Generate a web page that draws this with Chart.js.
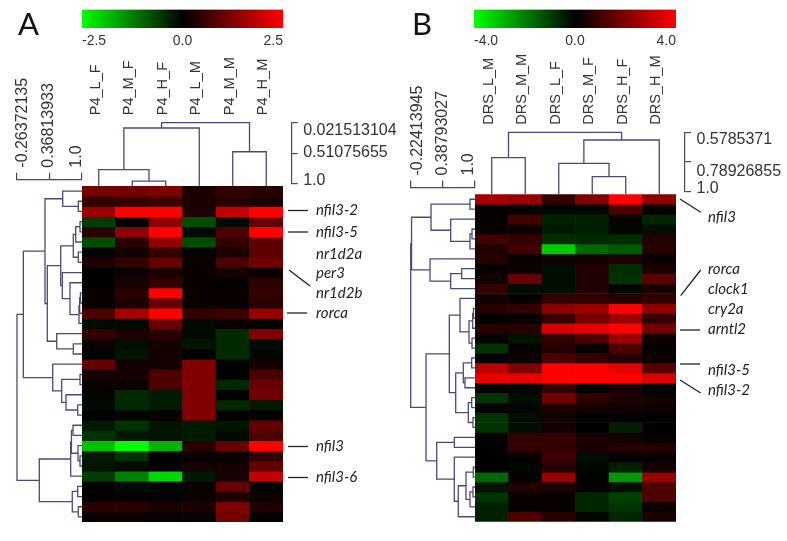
<!DOCTYPE html>
<html>
<head>
<meta charset="utf-8">
<script src="https://cdn.jsdelivr.net/npm/chart.js@4"></script>
<style>
  html, body { margin: 0; padding: 0; background: #fff; }
  #page { position: absolute; left: 0; top: 0; width: 787px; height: 541px; overflow: hidden; filter: blur(0.45px); }
  #page canvas { position: absolute; }
  .letter { position: absolute; font: 31px Lato, sans-serif; color: #111; line-height: 1; }
</style>
</head>
<body>
<div id="page">
  <div class="letter" style="left:18px;top:8px">A</div>
  <div class="letter" style="left:412px;top:8px">B</div>
</div>
<script>
// samples, in heatmap column order
var samplesA = ["P4_L_F", "P4_M_F", "P4_H_F", "P4_L_M", "P4_M_M", "P4_H_M"];
var samplesB = ["DRS_L_M", "DRS_M_M", "DRS_L_F", "DRS_M_F", "DRS_H_F", "DRS_H_M"];

// colour bar ends
var rangeA = [-2.5, 2.5];
var rangeB = [-4, 4];

// dendrogram axis ticks
var colTicksA = [0.021513104, 0.51075655, 1.0];
var rowTicksA = [-0.26372135, 0.36813933, 1.0];
var colTicksB = [0.5785371, 0.78926855, 1.0];
var rowTicksB = [-0.22413945, 0.38793027, 1.0];

// expression per gene row
var heatA = [
  [1.15, 1.15, 1.25, .25, .5, .4],
  [.5, .5, .6, .25, .4, .25],
  [1.5, 2.5, 2.5, .3, 1.9, 2.5],
  [-.6, .05, 1.4, -.75, -.1, 1],
  [.4, 1.4, 2.5, -.1, .75, 2.5],
  [-.75, .4, 1.4, -.75, .5, .9],
  [.05, .2, .5, .05, .25, .9],
  [.3, .5, 1, .1, .75, 1.1],
  [0, .1, .25, .1, .2, .1],
  [0, .25, .5, .1, .05, .45],
  [.1, .4, 2.5, .1, .1, .5],
  [.1, .25, 1, .1, .1, .4],
  [.75, 1.6, 2.5, .5, .6, 1.5],
  [-.1, -.1, 1, -.1, .1, .05],
  [.5, .25, .4, -.1, -.4, 1.25],
  [.1, -.15, .2, -.2, -.4, -.1],
  [0, -.2, .2, 0, -.4, -.05],
  [1, .2, .2, 1.25, 0, .2],
  [.2, .2, .75, 1.25, 0, .75],
  [.1, .1, .75, 1.25, -.4, 1],
  [-.05, -.4, -.25, 1.25, 0, 1.1],
  [-.1, -.4, -.25, 1.25, -.4, -.25],
  [0, -.05, .1, 1.25, 0, .05],
  [-.25, -.5, -.2, -.25, -.2, 1],
  [-.5, -.25, -.2, -.25, -.1, .75],
  [-1.9, -2.5, -1.75, .4, 1, 2.5],
  [-.25, -.5, 0, .1, .1, .5],
  [-.2, -.1, 0, .2, .2, 1],
  [-.6, -1.25, -2.1, -.25, .25, 1.9],
  [0, -.1, -.05, .1, 1, .05],
  [0, 0, 0, .1, .3, .1],
  [.4, .4, .25, .25, 1.25, .3],
  [.1, .1, .1, .1, 1.1, .05]
];
var heatB = [
  [2.6, 2.4, .8, 2, 4, 2.2],
  [.1, .1, -.1, -.1, 1.2, .1],
  [.1, 1, -.5, -.5, .1, -.6],
  [.1, .2, -.4, -.5, -.1, -.2],
  [1, .8, -.7, -.6, -.7, .5],
  [.5, 1, -3.2, -1.6, -1.4, .6],
  [.6, .1, .3, .3, .4, .1],
  [.1, .2, -.2, .5, -.7, .4],
  [.3, 1.6, -.2, .5, -.8, 1.4],
  [.8, -.2, -.2, .5, -.1, .4],
  [.3, .1, .8, .8, .6, .8],
  [.6, .8, 2.2, 2.4, 4, 2.2],
  [0, .1, .8, 1.8, 2.4, .8],
  [.6, .6, 3.4, 3.6, 4, 1.8],
  [.1, -.3, .8, 1.2, 2.4, .2],
  [-.8, .1, .6, .1, 1.2, .1],
  [.1, .2, 1.2, .8, .6, .2],
  [3, 2, 4, 4, 3.6, 1.4],
  [3.6, 3.6, 4, 4, 4, 3.4],
  [0, -.1, .8, 0, .4, -.1],
  [-.8, -.2, 1.8, .8, .4, .3],
  [0, -.1, .4, .3, .3, .2],
  [-.8, -.2, .2, 0, 0, 0],
  [-.8, -.2, .3, 0, -.5, 0],
  [0, .8, .8, .4, .3, .1],
  [0, .8, .8, .4, .6, .6],
  [0, .1, 1, -.2, .1, .1],
  [0, -.1, .6, -.1, -.5, .3],
  [-1.6, .1, 2.4, 0, -2.4, 2.4],
  [-.3, .5, .4, .1, -.2, 1.2],
  [-.8, .1, .1, -.6, -1, 1.2],
  [-.5, .1, .1, -.6, -.8, .1],
  [-.5, 1.2, .6, -.1, -.6, .4]
];

// dendrograms: [merge distance, child, child], a plain number is a leaf index
var colTreeA = [.0215, [.106, [.769, 0, [.953, 1, 2]], 3], [.485, 4, 5]];
var colTreeB = [.5785, [.7586, 0, 1], [.633, [.7984, 2, [.8934, 3, 4]], 5]];

var rowTreeA = [-.2637,
  [-.14,
    [.283,
      [.629, 0, [.934, 1, 2]],
      [.328,
        [.59,
          [.836, [.883, [.967, 3, 4], 5], [.934, 6, 7]],
          [.621, 8, [.771, 9, [.947, [.96, [.975, 10, 11], 12], 13]]]],
        [.512, 14, [.836, 15, 16]]]],
    [.434, 17, [.609, [.967, 18, 19], [.693, 20, [.922, 21, 22]]]]],
  [.172,
    [.785, [.8, [.83, 23, 24], [.928, 25, [.967, 26, 27]]], 28],
    [.816, [.922, 29, 30], [.934, 31, 32]]]
];
var rowTreeB = [-.2241,
  [-.208,
    [.167, [.917, 0, 1], [.546, 2, [.917, [.956, 3, 4], 5]]],
    [.148, 6, [.546, [.758, 7, 8], 9]]],
  [.071,
    [.519,
      [.725, 10, [.898, [.969, [.985, 11, 12], 13], [.956, 14, 15]]],
      [.642,
        [.788, [.95, 16, 17], [.821, 18, 19]],
        [.885, [.95, 20, 21], [.975, 22, 23]]]],
    [.277,
      [.615, 24, 25],
      [.615, 26, [.692, [.84, [.981, 27, 28], [.917, [.975, 29, 30], 31]], 32]]]]
];

// gene names beside the heatmaps
var genesA = ["nfil3-2", "nfil3-5", "nr1d2a", "per3", "nr1d2b", "rorca", "nfil3", "nfil3-6"];
var genesB = ["nfil3", "rorca", "clock1", "cry2a", "arntl2", "nfil3-5", "nfil3-2"];

// ---- layout, in page pixels ----
var nRows = 33;
var panelA = {
  samples: samplesA, range: rangeA, heat: heatA, colTree: colTreeA, rowTree: rowTreeA,
  colTicks: colTicksA, rowTicks: rowTicksA, genes: genesA,
  barL: 82, barR: 283, heatL: 82, heatR: 283, heatT: 186, heatB: 522,
  colAxisX: 291.7, colAxisT: 122.7, colAxisB: 184,
  rowAxisY: 179.7, rowAxisL: 17, rowAxisR: 81.7,
  colLabelShift: [8, -.7, -3], rowLabelShift: [6, -1, -4.7],
  pageLeft: 0, pageRight: 400, labelX: 316,
  labelY: [210.5, 232, 254, 273, 293, 313, 446.5, 477.5],
  rules: [[288, 210.5, 308, 210.5], [288, 232, 308, 232], [289, 270, 310, 286], [287, 313, 307, 313], [288, 446.5, 308, 446.5], [288, 477.5, 308, 477.5]]
};
var panelB = {
  samples: samplesB, range: rangeB, heat: heatB, colTree: colTreeB, rowTree: rowTreeB,
  colTicks: colTicksB, rowTicks: rowTicksB, genes: genesB,
  barL: 474, barR: 676.5, heatL: 475, heatR: 676, heatT: 194.3, heatB: 521.7,
  colAxisX: 685, colAxisT: 132.3, colAxisB: 191.7,
  rowAxisY: 187.5, rowAxisL: 410.7, rowAxisR: 474.3,
  colLabelShift: [7, 10, -3], rowLabelShift: [7, 0, -6],
  pageLeft: 400, pageRight: 787, labelX: 708,
  labelY: [217, 269, 289, 309, 329, 370, 390],
  rules: [[680, 199, 700.7, 212.3], [680.7, 295.7, 700.7, 270], [680, 330, 700, 330], [680, 364, 700, 364], [680, 380, 700.7, 393]]
};

var LINE = "#4a4a78";
var AXIS = "#4a4a4a";
var TEXT = "#333";
var FONT = "'Liberation Sans', Arial, sans-serif";

// create a canvas at a page box and return it with the padding that puts the plot area on `area`.
// sides taken by an axis get no padding, the axis afterFit fills them instead
function mount(box, area, axisSides) {
  var c = document.createElement("canvas");
  c.width = box.r - box.l;
  c.height = box.b - box.t;
  c.style.left = box.l + "px";
  c.style.top = box.t + "px";
  document.getElementById("page").appendChild(c);
  var padding = {
    left: area.l - box.l, right: box.r - area.r, top: area.t - box.t, bottom: box.b - area.b
  };
  (axisSides || []).forEach(function(s) { padding[s] = 0; });
  return { ctx: c, padding: padding };
}

// no extra room for the first and last tick label, the plot area stays where it was put
function noLabelMargin(s) {
  s.paddingLeft = s.paddingRight = s.paddingTop = s.paddingBottom = 0;
}

function baseOptions(padding) {
  return {
    responsive: false,
    animation: false,
    events: [],
    layout: { padding: padding },
    plugins: { legend: { display: false }, tooltip: { enabled: false } }
  };
}

function setTicks(values) {
  return function(s) {
    s.ticks = values.map(function(v) { return { value: v }; });
  };
}

// label spots on a second axis: the source prints these labels a bit off their ticks
function shifted(ticks, shift, pxPerDist) {
  return ticks.map(function(v, i) { return v + shift[i] / pxPerDist; });
}

function heatColor(v, max) {
  var f = Math.min(1, Math.abs(v) / max);
  var c = Math.round(255 * f);
  return v >= 0 ? "rgb(" + c + ",0,0)" : "rgb(0," + c + ",0)";
}

// walk a tree, one short poly line per merge
function dendroSegments(tree, leafDist, flip) {
  var out = [];
  function walk(n) {
    if (typeof n === "number") return { d: leafDist, p: n + .5 };
    var a = walk(n[1]), b = walk(n[2]);
    var pts = [[a.d, a.p], [n[0], a.p], [n[0], b.p], [b.d, b.p]];
    out.push(pts.map(function(q) {
      return flip ? { x: q[1], y: q[0] } : { x: q[0], y: q[1] };
    }));
    return { d: n[0], p: (a.p + b.p) / 2 };
  }
  walk(tree);
  return out;
}

function lineSets(segments) {
  return segments.map(function(s) {
    return { data: s, showLine: true, pointRadius: 0, borderColor: LINE, borderWidth: 1.3, clip: false, tension: 0 };
  });
}

function labelFor(ticks) {
  return function(v, i) {
    return ticks[i] === 1 ? "1.0" : String(ticks[i]);
  };
}

function colorBar(p) {
  var box = { l: p.barL - 4, r: p.barR + 4, t: 4, b: 52 };
  var area = { l: p.barL, r: p.barR, t: 9.5, b: 28 };
  var m = mount(box, area, ["bottom"]);
  var opts = baseOptions(m.padding);
  opts.indexAxis = "y";
  opts.scales = {
    x: {
      min: p.range[0], max: p.range[1],
      grid: { display: false, drawTicks: false }, border: { display: false },
      afterBuildTicks: setTicks([p.range[0], 0, p.range[1]]),
      afterFit: function(s) { s.height = box.b - area.b; noLabelMargin(s); },
      ticks: {
        align: "inner", padding: 5, color: TEXT, font: { family: FONT, size: 14 }, maxRotation: 0,
        callback: function(v) { return v.toFixed(1); }
      }
    },
    y: { display: false }
  };
  new Chart(m.ctx, {
    type: "bar",
    data: {
      labels: [""],
      datasets: [{
        data: [p.range],
        barPercentage: 1, categoryPercentage: 1, borderSkipped: false,
        backgroundColor: function(c) {
          var ca = c.chart.chartArea;
          if (!ca) return "#000";
          var g = c.chart.ctx.createLinearGradient(ca.left, 0, ca.right, 0);
          g.addColorStop(0, "#00ff00");
          g.addColorStop(.5, "#000");
          g.addColorStop(1, "#ff0000");
          return g;
        }
      }]
    },
    options: opts
  });
}

function colDendro(p) {
  var area = { l: p.heatL, r: p.colAxisX, t: p.colAxisT, b: p.colAxisB };
  var box = { l: p.heatL, r: p.pageRight, t: 52, b: Math.ceil(p.heatT) + 2 };
  var m = mount(box, area, ["top", "right"]);
  var colUnit = (p.heatR - p.heatL) / 6;
  var pxPerDist = (p.colAxisB - p.colAxisT) / (1 - p.colTicks[0]);
  var leafDist = 1 + (p.heatT - p.colAxisB) / pxPerDist;
  var tickLen = 6;
  var opts = baseOptions(m.padding);
  opts.scales = {
    x: {
      type: "linear", position: "top",
      min: 0, max: (p.colAxisX - p.heatL) / colUnit,
      grid: { display: false, drawTicks: false }, border: { display: false },
      afterBuildTicks: setTicks(p.samples.map(function(_, i) { return i + .5; })),
      afterFit: function(s) { s.height = area.t - box.t; noLabelMargin(s); },
      ticks: {
        autoSkip: false, minRotation: 90, maxRotation: 90, padding: 7.5, labelOffset: 14.4, color: TEXT,
        font: { family: FONT, size: 14.5 },
        callback: function(v, i) { return p.samples[i]; }
      }
    },
    y: {
      type: "linear", position: "right", reverse: true, weight: 0,
      min: p.colTicks[0], max: 1,
      grid: { drawOnChartArea: false, color: AXIS, tickLength: tickLen, lineWidth: 1.2 },
      border: { display: true, color: AXIS, width: 1.2 },
      afterBuildTicks: setTicks(p.colTicks),
      afterFit: function(s) { s.width = tickLen; noLabelMargin(s); },
      ticks: { display: false }
    },
    y2: {
      type: "linear", position: "right", reverse: true, weight: 1,
      min: p.colTicks[0], max: 1,
      grid: { display: false, drawTicks: false }, border: { display: false },
      afterBuildTicks: setTicks(shifted(p.colTicks, p.colLabelShift, pxPerDist)),
      afterFit: function(s) { s.width = box.r - area.r - tickLen; noLabelMargin(s); },
      ticks: { padding: 5.5, color: TEXT, font: { family: FONT, size: 16 }, callback: labelFor(p.colTicks) }
    }
  };
  new Chart(m.ctx, {
    type: "scatter",
    data: { datasets: lineSets(dendroSegments(p.colTree, leafDist, true)) },
    options: opts
  });
}

function rowDendro(p) {
  var area = { l: p.rowAxisL, r: p.rowAxisR, t: p.rowAxisY, b: p.heatB };
  var box = { l: p.pageLeft, r: Math.ceil(p.rowAxisR) + 3, t: 60, b: Math.ceil(p.heatB) + 4 };
  var m = mount(box, area, ["top"]);
  var rowH = (p.heatB - p.heatT) / nRows;
  var pxPerDist = (p.rowAxisR - p.rowAxisL) / (1 - p.rowTicks[0]);
  var leafDist = 1 + (p.heatL - p.rowAxisR) / pxPerDist;
  var tickLen = 7;
  var opts = baseOptions(m.padding);
  opts.scales = {
    x: {
      type: "linear", position: "top", weight: 0,
      min: p.rowTicks[0], max: 1,
      grid: { drawOnChartArea: false, color: AXIS, tickLength: tickLen, lineWidth: 1.2 },
      border: { display: true, color: AXIS, width: 1.2 },
      afterBuildTicks: setTicks(p.rowTicks),
      afterFit: function(s) { s.height = tickLen; noLabelMargin(s); },
      ticks: { display: false }
    },
    x2: {
      type: "linear", position: "top", weight: 1,
      min: p.rowTicks[0], max: 1,
      grid: { display: false, drawTicks: false }, border: { display: false },
      afterBuildTicks: setTicks(shifted(p.rowTicks, p.rowLabelShift, pxPerDist)),
      afterFit: function(s) { s.height = area.t - box.t - tickLen; noLabelMargin(s); },
      ticks: {
        autoSkip: false, minRotation: 90, maxRotation: 90, padding: 5, labelOffset: 19.2, color: TEXT,
        font: { family: FONT, size: 16 }, callback: labelFor(p.rowTicks)
      }
    },
    y: {
      type: "linear", display: false, reverse: true,
      min: -(p.heatT - p.rowAxisY) / rowH, max: nRows
    }
  };
  new Chart(m.ctx, {
    type: "scatter",
    data: { datasets: lineSets(dendroSegments(p.rowTree, leafDist, false)) },
    options: opts
  });
}

function heatMap(p) {
  var box = { l: Math.floor(p.heatL), r: p.pageRight, t: Math.floor(p.heatT) - 2, b: Math.ceil(p.heatB) + 2 };
  var m = mount(box, { l: p.heatL, r: p.heatR, t: p.heatT, b: p.heatB });
  var opts = baseOptions(m.padding);
  opts.scales = {
    x: { stacked: true, display: false },
    y: { stacked: true, display: false, reverse: true, min: 0, max: nRows }
  };
  var callouts = {
    id: "callouts",
    afterDraw: function(chart) {
      var ctx = chart.ctx;
      ctx.save();
      ctx.translate(-box.l, -box.t);
      ctx.strokeStyle = "#222";
      ctx.lineWidth = 1.3;
      p.rules.forEach(function(r) {
        ctx.beginPath();
        ctx.moveTo(r[0], r[1]);
        ctx.lineTo(r[2], r[3]);
        ctx.stroke();
      });
      ctx.fillStyle = "#222";
      ctx.font = "italic 15px Lato, sans-serif";
      ctx.textBaseline = "middle";
      p.genes.forEach(function(g, i) {
        ctx.fillText(g, p.labelX, p.labelY[i]);
      });
      ctx.restore();
    }
  };
  new Chart(m.ctx, {
    type: "bar",
    data: {
      labels: p.samples,
      datasets: p.heat.map(function(row) {
        return {
          data: row.map(function() { return 1; }),
          backgroundColor: row.map(function(v) { return heatColor(v, p.range[1]); }),
          borderWidth: 0, barPercentage: 1, categoryPercentage: 1
        };
      })
    },
    options: opts,
    plugins: [callouts]
  });
}

[panelA, panelB].forEach(function(p) {
  colorBar(p);
  heatMap(p);
  rowDendro(p);
  colDendro(p);
});
</script>
</body>
</html>
